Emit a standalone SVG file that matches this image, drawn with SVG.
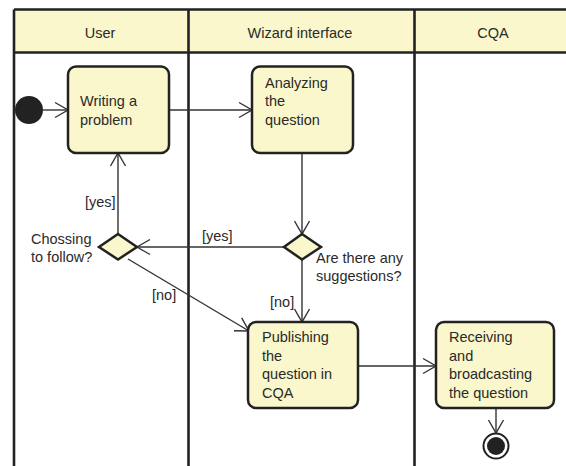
<svg xmlns="http://www.w3.org/2000/svg" width="566" height="466" viewBox="0 0 566 466">
<style>
text{font-family:"Liberation Sans",Arial,sans-serif;font-size:14.5px;fill:#2a2a2a}
.hd{text-anchor:middle}
.box{fill:#F9F7CB;stroke:#222;stroke-width:2.5}
.lane{stroke:#222;stroke-width:2.6;fill:none}
.c{stroke:#333;stroke-width:1.4;fill:none;marker-end:url(#a)}
</style>
<defs>
<marker id="a" markerUnits="userSpaceOnUse" viewBox="0 0 18 18" refX="15" refY="9" markerWidth="18" markerHeight="18" orient="auto">
<path d="M2,1.5 L15,9 L2,16.5" fill="none" stroke="#333" stroke-width="1.4"/>
</marker>
</defs>
<rect width="566" height="466" fill="#fff"/>
<g id="lanes">
<rect x="14" y="9.5" width="560" height="43" fill="#F9F7CB"/>
<path class="lane" d="M14,9.5 H566 M14,52.5 H566 M14,9.5 V466 M188.5,9.5 V466 M414.5,9.5 V466"/>
<text class="hd" x="100" y="38">User</text>
<text class="hd" x="300" y="38">Wizard interface</text>
<text class="hd" x="493" y="38">CQA</text>
</g>
<g id="connectors">
<path class="c" d="M43,110 L68,110"/>
<path class="c" d="M169,110 L252,110"/>
<path class="c" d="M302,153 L302,234"/>
<path class="c" d="M284,247 L137,247"/>
<path class="c" d="M118,234 L118,153"/>
<path class="c" d="M302,259 L302,322"/>
<path class="c" d="M128,259 L249,331"/>
<path class="c" d="M358,366 L436,366"/>
<path class="c" d="M496,408 L496,433"/>
<text x="85" y="207">[yes]</text>
<text x="202" y="241">[yes]</text>
<text x="270" y="307">[no]</text>
<text x="152" y="300">[no]</text>
</g>
<g id="start"><circle cx="29" cy="110" r="14" fill="#222"/></g>
<g id="writing">
<rect class="box" x="68" y="66.5" width="101" height="86.5" rx="8"/>
<text x="80" y="106">Writing a</text>
<text x="80" y="124.5">problem</text>
</g>
<g id="analyzing">
<rect class="box" x="252" y="66.5" width="101" height="86.5" rx="8"/>
<text x="265" y="88">Analyzing</text>
<text x="265" y="106">the</text>
<text x="265" y="124.5">question</text>
</g>
<g id="decision-suggestions">
<path class="box" d="M302,234 L321,247 L302,259.5 L284,247 Z"/>
<text x="316" y="263">Are there any</text>
<text x="316" y="281">suggestions?</text>
</g>
<g id="decision-follow">
<path class="box" d="M118,234 L137,247 L118,259.5 L99,247 Z"/>
<text x="31" y="244">Chossing</text>
<text x="31" y="262">to follow?</text>
</g>
<g id="publishing">
<rect class="box" x="248" y="322" width="110" height="86" rx="8"/>
<text x="262" y="342">Publishing</text>
<text x="262" y="360.5">the</text>
<text x="262" y="379">question in</text>
<text x="262" y="397.5">CQA</text>
</g>
<g id="receiving">
<rect class="box" x="436" y="322" width="118" height="86" rx="8"/>
<text x="449" y="342">Receiving</text>
<text x="449" y="360.5">and</text>
<text x="449" y="379">broadcasting</text>
<text x="449" y="397.5">the question</text>
</g>
<g id="end">
<circle cx="496" cy="446" r="12.5" fill="#fff" stroke="#222" stroke-width="2"/>
<circle cx="496" cy="446" r="9" fill="#222"/>
</g>
</svg>
